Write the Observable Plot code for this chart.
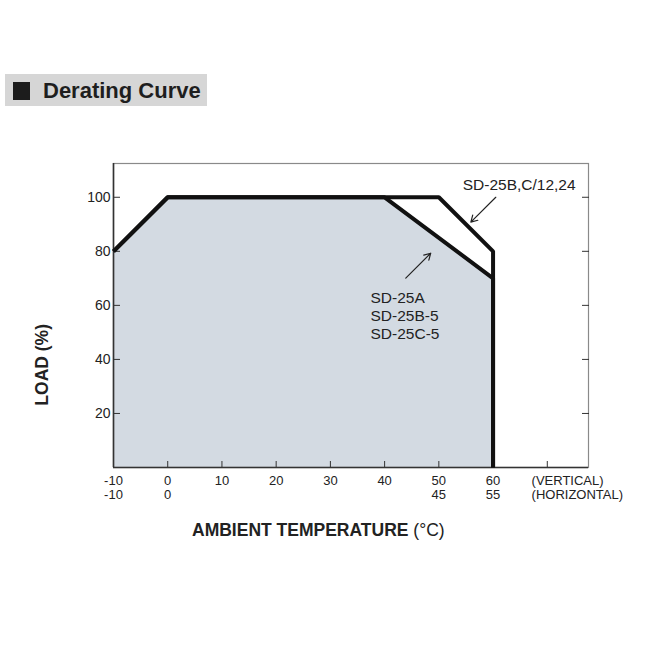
<!DOCTYPE html>
<html>
<head>
<meta charset="utf-8">
<script src="https://cdn.jsdelivr.net/npm/d3@7"></script>
<script src="https://cdn.jsdelivr.net/npm/@observablehq/plot@0.6"></script>
<style>
  html, body { margin: 0; padding: 0; background: #fff; }
  body { width: 650px; height: 650px; overflow: hidden; font-family: "Liberation Sans", Arial, sans-serif; }
  #header { position: relative; width: 650px; height: 120px; }
  #titlebox { position: absolute; left: 5px; top: 74px; width: 202px; height: 32px; background: #d6d6d6; }
  #titlesq { position: absolute; left: 8px; top: 8px; width: 17px; height: 18px; background: #1c1c1c; }
  #titletext { position: absolute; left: 38px; top: 0; line-height: 34px; font-size: 22px; font-weight: bold; color: #1e1e1e; white-space: nowrap; }
</style>
</head>
<body>
<div id="header"><div id="titlebox"><div id="titlesq"></div><div id="titletext">Derating Curve</div></div></div>
<div id="chart"></div>
<script>
// Data
const tempsA = [-10, 0, 40, 60, 60];           // SD-25A, SD-25B-5, SD-25C-5
const loadA  = [80, 100, 100, 70, 0];
const tempsB = [-10, 0, 50, 60, 60];           // SD-25B,C/12,24
const loadB  = [80, 100, 100, 80, 0];
const yTicks = [20, 40, 60, 80, 100];
const xTickMarks = [0, 10, 20, 30, 40, 50, 60, 70];
const vertTicks = [-10, 0, 10, 20, 30, 40, 50, 60];
const vertLabels = ["-10", "0", "10", "20", "30", "40", "50", "60"];
const horizTicks = [-10, 0, 50, 60];
const horizLabels = ["-10", "0", "45", "55"];
const labelB = "SD-25B,C/12,24";
const labelA = ["SD-25A", "SD-25B-5", "SD-25C-5"];

const curveA = tempsA.map((t, i) => ({t, load: loadA[i]}));
const curveB = tempsB.map((t, i) => ({t, load: loadB[i]}));
const areaA = curveA.slice(0, 4);

const FONT = '"Liberation Sans", Arial, sans-serif';
const INK = "#222";

const chart = Plot.plot({
  width: 650,
  height: 530,
  marginLeft: 113,
  marginRight: 62,
  marginTop: 43,
  marginBottom: 183,
  style: {fontFamily: FONT, fontSize: "13px", color: INK, background: "#fff", overflow: "visible"},
  x: {domain: [-10, 77.6], axis: null},
  y: {domain: [0, 112.5], axis: null},
  marks: [
    Plot.areaY(areaA, {x: "t", y: "load", fill: "#d3dae2"}),
    Plot.frame({stroke: "#8a8a8a", strokeWidth: 1.2}),
    Plot.ruleX([-10], {stroke: "#333", strokeWidth: 1.6}),
    Plot.ruleY([0], {stroke: "#333", strokeWidth: 1.6}),
    // inward ticks
    Plot.axisY(yTicks, {anchor: "left", tickSize: 7, dx: 7, text: null, label: null, stroke: "#333"}),
    Plot.axisY(yTicks, {anchor: "right", tickSize: 7, dx: -7, text: null, label: null, stroke: "#333"}),
    Plot.axisX(xTickMarks, {anchor: "bottom", tickSize: 6, dy: -6, text: null, label: null, stroke: "#333"}),
    // y tick labels
    Plot.axisY(yTicks, {anchor: "left", tickSize: 0, tickPadding: 3, label: null, fontSize: 14, fill: INK}),
    // x tick labels, two rows
    Plot.text(vertTicks, {x: d => d, text: (d, i) => vertLabels[i], frameAnchor: "bottom", lineAnchor: "middle", dy: 13, fontSize: 13, fill: INK}),
    Plot.text(horizTicks, {x: d => d, text: (d, i) => horizLabels[i], frameAnchor: "bottom", lineAnchor: "middle", dy: 27, fontSize: 13, fill: INK}),
    Plot.text(["(VERTICAL)"], {x: 67.1, text: d => d, frameAnchor: "bottom", lineAnchor: "middle", dy: 13, textAnchor: "start", fontSize: 13, fill: INK}),
    Plot.text(["(HORIZONTAL)"], {x: 67.1, text: d => d, frameAnchor: "bottom", lineAnchor: "middle", dy: 27, textAnchor: "start", fontSize: 13, fill: INK}),
    // curves
    Plot.line(curveB, {x: "t", y: "load", stroke: "#111", strokeWidth: 4, strokeLinejoin: "miter", strokeLinecap: "butt"}),
    Plot.line(curveA, {x: "t", y: "load", stroke: "#111", strokeWidth: 4, strokeLinejoin: "miter", strokeLinecap: "butt"}),
    // annotations
    Plot.arrow([0], {x1: 60.5, y1: 100, x2: 55.9, y2: 90.8, stroke: "#222", strokeWidth: 1.2, headLength: 9}),
    Plot.arrow([0], {x1: 43.9, y1: 70.1, x2: 48.5, y2: 79.3, stroke: "#222", strokeWidth: 1.2, headLength: 9}),
    Plot.text([labelB], {x: 54.4, y: 104.4, text: d => d, textAnchor: "start", fontSize: 15.5, fill: INK}),
    Plot.text([labelA.join("\n")], {x: 37.4, y: 56.5, text: d => d, textAnchor: "start", fontSize: 15.5, lineHeight: 1.16, fill: INK}),
    // axis titles
    Plot.text(["AMBIENT TEMPERATURE"], {x: 44.4, text: d => d, frameAnchor: "bottom", lineAnchor: "middle", dy: 63, textAnchor: "end", fontSize: 17.5, fontWeight: "bold", fill: INK}),
    Plot.text(["(°C)"], {x: 45.3, text: d => d, frameAnchor: "bottom", lineAnchor: "middle", dy: 63, textAnchor: "start", fontSize: 17.5, fill: INK}),
    Plot.text(["LOAD (%)"], {y: 38, text: d => d, frameAnchor: "left", textAnchor: "middle", lineAnchor: "middle", dx: -71, rotate: -90, fontSize: 17.5, fontWeight: "bold", fill: INK})
  ]
});
document.getElementById("chart").appendChild(chart);
</script>
</body>
</html>
